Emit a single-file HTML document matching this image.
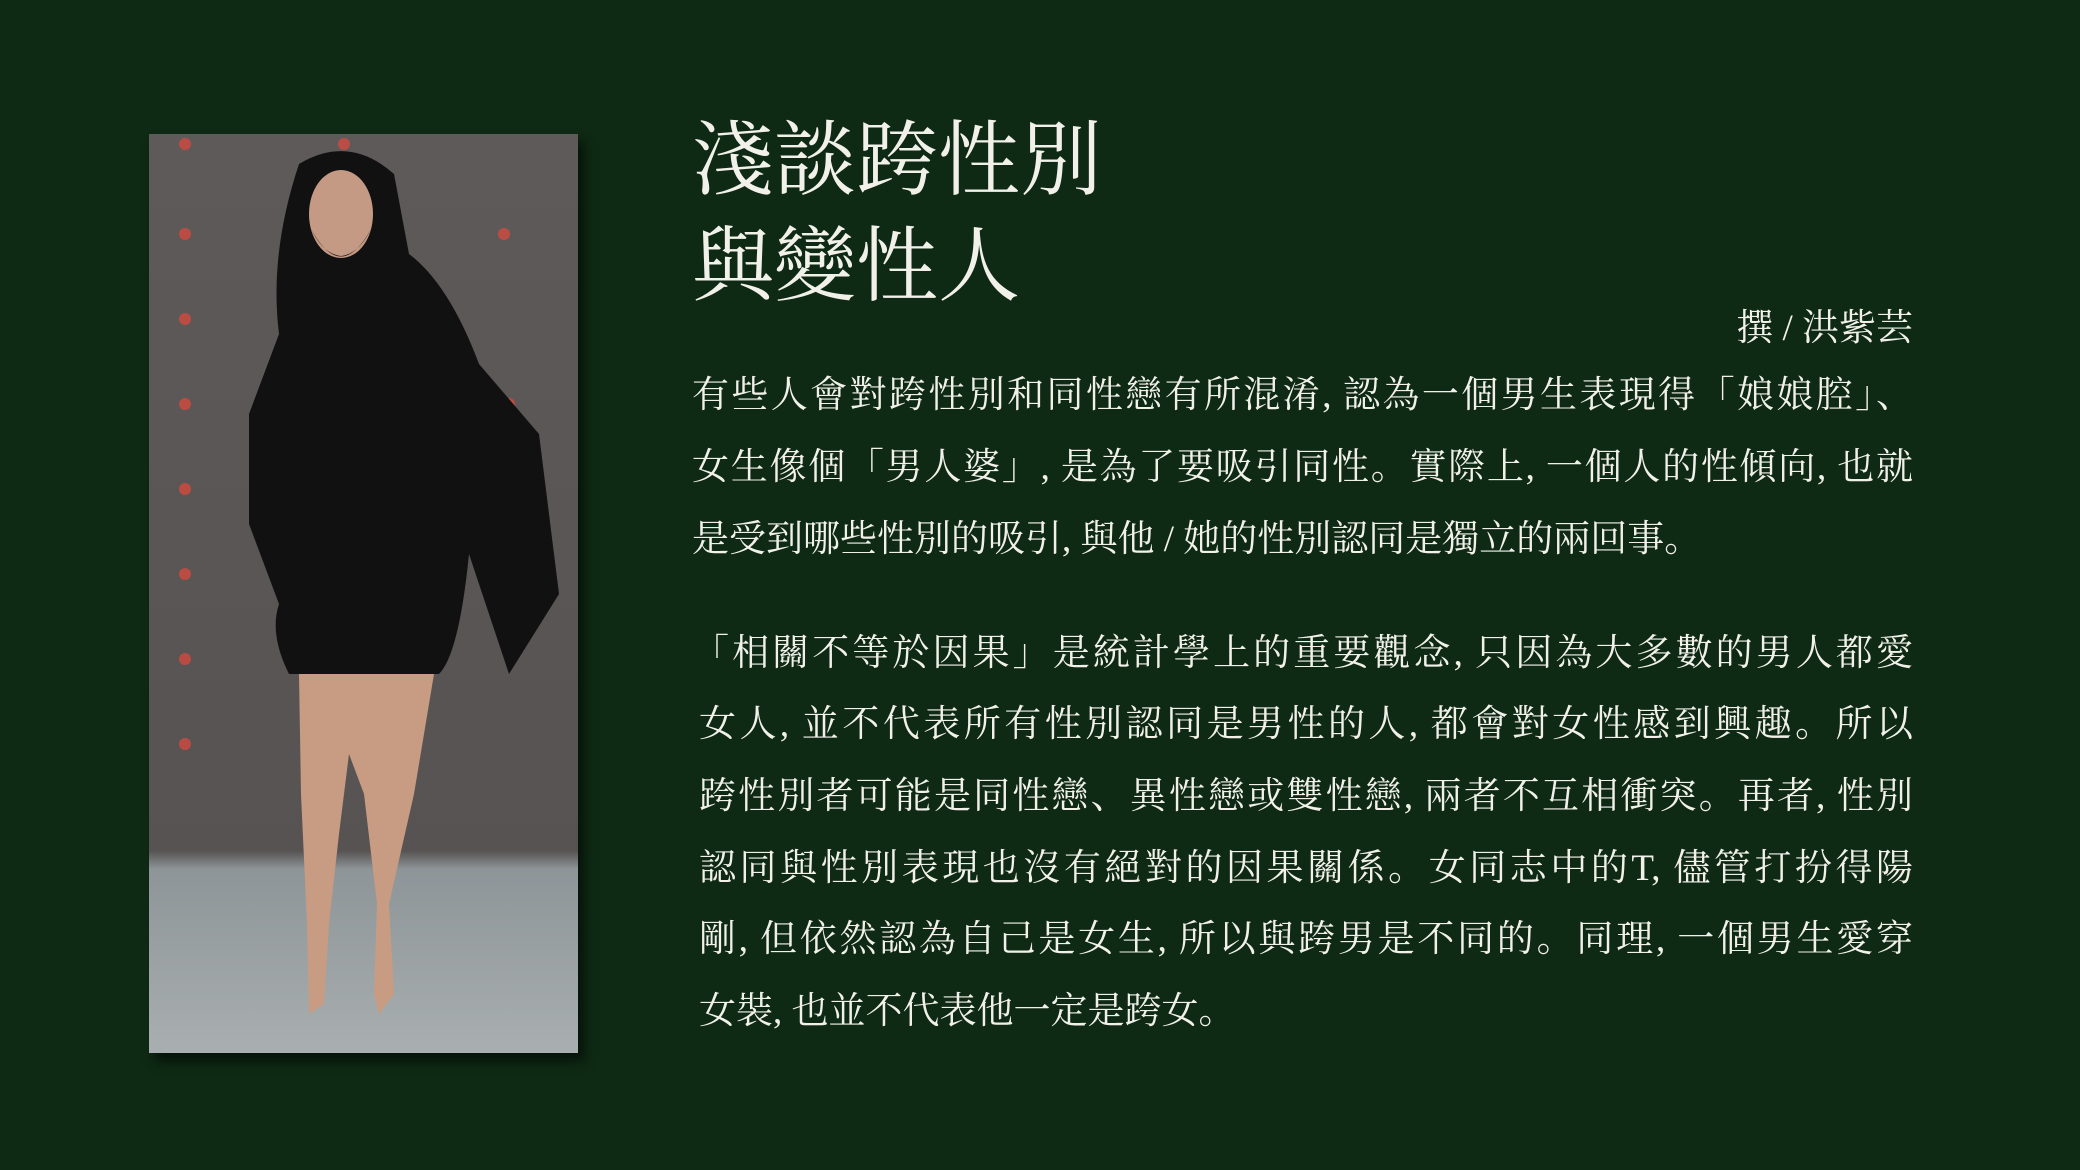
<!DOCTYPE html>
<html><head><meta charset="utf-8"><style>
html,body{margin:0;padding:0}
body{width:2080px;height:1170px;background:#0e2914;position:relative;overflow:hidden;font-family:"Liberation Serif","Noto Serif CJK SC","Noto Sans CJK TC",serif;color:#f1f1ea}
.photo{position:absolute;left:149px;top:134px;width:429px;height:919px;background:linear-gradient(#5e5a5a,#575353 78%,#8e9598 80%,#a9afb0);box-shadow:6px 8px 10px rgba(0,0,0,.55);overflow:hidden}
.t{position:absolute;white-space:nowrap}
.title{left:692px;font-size:82px;line-height:1}
.line{position:absolute;left:692px;width:1221px;font-size:37px;line-height:1;text-align:justify;text-align-last:justify;white-space:nowrap}
</style></head><body>
<div class="photo">
<svg width="429" height="919" viewBox="0 0 429 919">
<g fill="#d24a3e" opacity=".8"><circle cx="36" cy="10" r="6"/><circle cx="36" cy="100" r="6"/><circle cx="36" cy="185" r="6"/><circle cx="36" cy="270" r="6"/><circle cx="36" cy="355" r="6"/><circle cx="36" cy="440" r="6"/><circle cx="36" cy="525" r="6"/><circle cx="36" cy="610" r="6"/><circle cx="195" cy="10" r="6"/><circle cx="355" cy="100" r="6"/><circle cx="360" cy="270" r="6"/></g>
<path d="M150 30 Q200 0 245 40 L260 120 Q300 150 330 230 L390 300 L410 460 L360 540 L320 420 Q310 520 290 540 L140 540 Q120 500 130 470 L100 390 L100 280 L130 200 Q120 120 150 30Z" fill="#111"/>
<ellipse cx="192" cy="80" rx="32" ry="44" fill="#c49a84"/>
<path d="M162 95 Q192 150 222 95 Q210 120 192 122 Q174 120 162 95Z" fill="#1a1616"/>
<path d="M150 540 L285 540 L265 660 L240 770 L245 860 L230 880 L225 860 L228 770 L215 660 L200 620 L190 700 L180 790 L175 870 L160 880 L158 790 L152 660Z" fill="#c79c82"/>
</svg></div>
<div class="t title" style="top:120px">淺談跨性別</div>
<div class="t title" style="top:226px">與變性人</div>
<div class="t" style="right:167px;top:297px;font-size:37px">撰 / 洪紫芸</div>
<div>
<div class="line" style="top:377px">有些人會對跨性別和同性戀有所混淆, 認為一個男生表現得「娘娘腔」、</div>
<div class="line" style="top:449px">女生像個「男人婆」, 是為了要吸引同性。實際上, 一個人的性傾向, 也就</div>
<div class="line" style="top:521px;width:auto;text-align-last:auto">是受到哪些性別的吸引, 與他 / 她的性別認同是獨立的兩回事。</div>
</div>
<div>
<div class="line" style="top:635px">「相關不等於因果」是統計學上的重要觀念, 只因為大多數的男人都愛</div>
<div class="line" style="top:706px;left:699px;width:1214px">女人, 並不代表所有性別認同是男性的人, 都會對女性感到興趣。所以</div>
<div class="line" style="top:778px;left:699px;width:1214px">跨性別者可能是同性戀、異性戀或雙性戀, 兩者不互相衝突。再者, 性別</div>
<div class="line" style="top:850px;left:699px;width:1214px">認同與性別表現也沒有絕對的因果關係。女同志中的T, 儘管打扮得陽</div>
<div class="line" style="top:921px;left:699px;width:1214px">剛, 但依然認為自己是女生, 所以與跨男是不同的。同理, 一個男生愛穿</div>
<div class="line" style="top:993px;left:699px;width:auto;text-align-last:auto">女裝, 也並不代表他一定是跨女。</div>
</div>
</body></html>
